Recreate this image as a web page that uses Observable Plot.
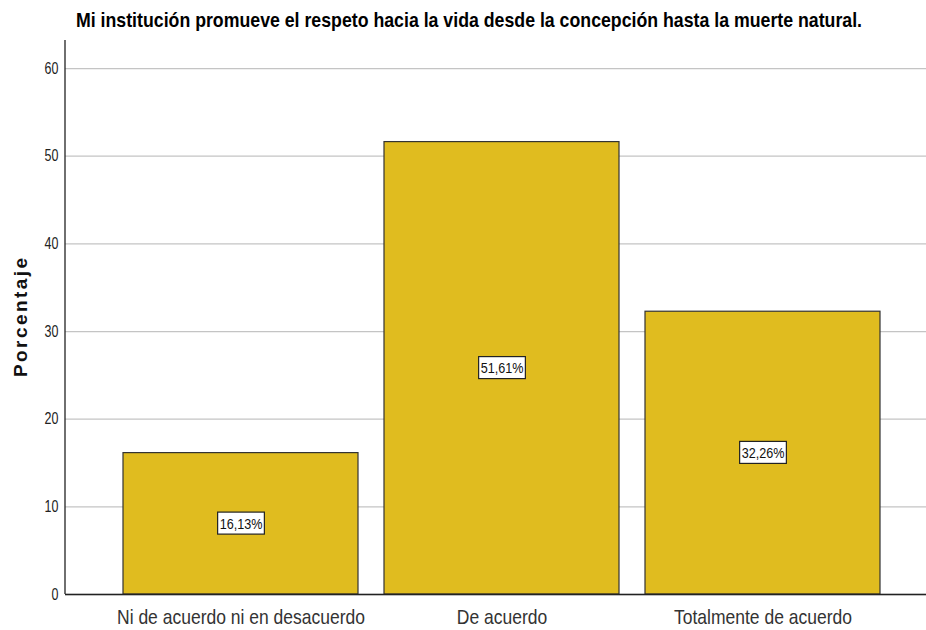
<!DOCTYPE html>
<html>
<head>
<meta charset="utf-8">
<script src="https://cdn.jsdelivr.net/npm/d3@7"></script>
<script src="https://cdn.jsdelivr.net/npm/@observablehq/plot@0.6"></script>
<style>
  body { margin: 0; background: #fff; }
  #wrap { position: relative; width: 926px; height: 630px; overflow: hidden; }
  #title { position: absolute; left: 76px; top: 8px; font-family: "Liberation Sans", Arial, sans-serif; font-weight: bold; font-size: 21px; color: #000; white-space: nowrap; transform-origin: 0 0; z-index: 2; }
</style>
</head>
<body>
<div id="wrap"><div id="title">Mi institución promueve el respeto hacia la vida desde la concepción hasta la muerte natural.</div></div>
<script>
const categories = ["Ni de acuerdo ni en desacuerdo", "De acuerdo", "Totalmente de acuerdo"];
const percentages = [16.13, 51.61, 32.26];
const valueLabels = ["16,13%", "51,61%", "32,26%"];
const yTicks = [0, 10, 20, 30, 40, 50, 60];

const data = categories.map((c, i) => ({cat: c, pct: percentages[i], label: valueLabels[i]}));
const FONT = '"Liberation Sans", Arial, sans-serif';

const leftLine = (index, scales, values, dims) => {
  const g = d3.create("svg:line")
    .attr("x1", dims.marginLeft).attr("x2", dims.marginLeft)
    .attr("y1", dims.marginTop).attr("y2", dims.height - dims.marginBottom)
    .attr("stroke", "#222").attr("stroke-width", 1.3);
  return g.node();
};

const chart = Plot.plot({
  width: 926,
  height: 630,
  marginTop: 40,
  marginBottom: 36,
  marginLeft: 65,
  marginRight: 0,
  style: {fontFamily: FONT, background: "#fff", color: "#000"},
  x: {domain: categories, padding: 0.1, paddingOuter: 0.196, align: 0.555, label: null},
  y: {domain: [0, 63.2], label: null},
  marks: [
    Plot.gridY(yTicks, {stroke: "#c4c4c4", strokeOpacity: 1, strokeWidth: 1.3}),
    Plot.barY(data, {x: "cat", y: "pct", fill: "#E0BC1F", stroke: "#333", strokeWidth: 1.2}),
    Plot.ruleY([0], {stroke: "#222", strokeWidth: 1.3}),
    leftLine,
    Plot.axisY(yTicks, {tickSize: 0, tickPadding: 7, fontSize: 16, label: null, fill: "#222", className: "yax"}),
    Plot.axisX({tickSize: 0, tickPadding: 15, fontSize: 21, label: null, fill: "#333", className: "xax"}),
    Plot.text(["Porcentaje"], {frameAnchor: "left", textAnchor: "middle", rotate: -90, dx: -45, fontWeight: "bold", fontSize: 19, fill: "#111", className: "ylab"}),
    Plot.text(data, {x: "cat", y: d => d.pct / 2, text: "label", fontSize: 15, fill: "#111", className: "vlabel"})
  ]
});

document.getElementById("wrap").appendChild(chart);
chart.style.position = "absolute";
chart.style.left = "0px";
chart.style.top = "0px";

// narrow the text horizontally (the reference uses a condensed face)
function squeeze(t, factor) {
  const w = t.getComputedTextLength();
  t.setAttribute("textLength", (w * factor).toFixed(2));
  t.setAttribute("lengthAdjust", "spacingAndGlyphs");
}
const xTexts = chart.querySelectorAll(".xax text");
const xf = xTexts.length ? 248 / xTexts[0].getComputedTextLength() : 0.85;
xTexts.forEach(t => squeeze(t, xf));
chart.querySelectorAll(".yax text").forEach(t => squeeze(t, 0.78));
chart.querySelectorAll(".ylab text").forEach(t => {
  const w = t.getComputedTextLength();
  const n = t.textContent.length;
  const ls = (119 - w) / (n - 1);
  t.style.letterSpacing = ls.toFixed(2) + "px";
  t.setAttribute("dx", (ls / 2).toFixed(2));
});
chart.querySelectorAll(".vlabel text").forEach(t => {
  squeeze(t, 0.84);
  const b = t.getBBox();
  const r = document.createElementNS("http://www.w3.org/2000/svg", "rect");
  r.setAttribute("x", b.x - 2);
  r.setAttribute("y", b.y - 2.5);
  r.setAttribute("width", b.width + 4);
  r.setAttribute("height", b.height + 5);
  r.setAttribute("fill", "#fff");
  r.setAttribute("stroke", "#222");
  r.setAttribute("stroke-width", 1.2);
  if (t.getAttribute("transform")) r.setAttribute("transform", t.getAttribute("transform"));
  t.parentNode.insertBefore(r, t);
});

// title condensed to the reference width
const title = document.getElementById("title");
const tw = title.getBoundingClientRect().width;
title.style.transform = `scaleX(${786 / tw})`;
</script>
</body>
</html>
